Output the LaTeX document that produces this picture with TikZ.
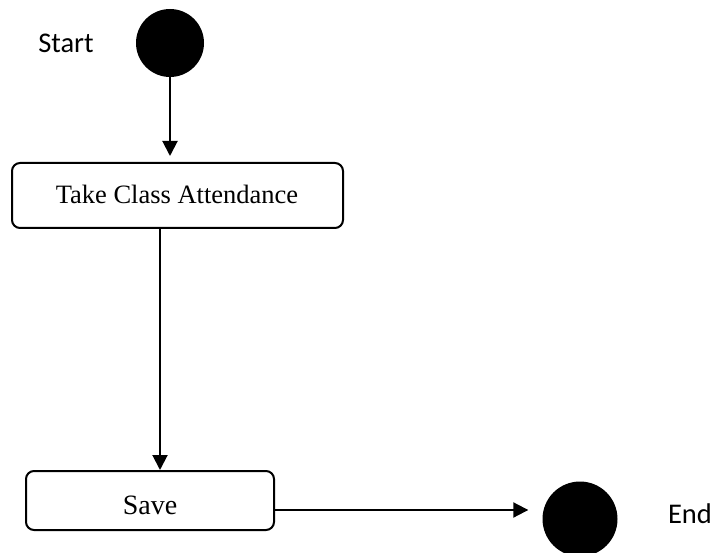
\documentclass[tikz,border=0pt]{standalone}
\usepackage{fontspec}
\setmainfont{Liberation Serif}
\newfontfamily\labelfont{Carlito}
\usetikzlibrary{arrows.meta,calc}
\begin{document}
\begin{tikzpicture}[x=1pt,y=-1pt,
  statedot/.style={circle,fill=black,draw=none,inner sep=0pt},
  activity/.style={draw,rounded corners=8pt,line width=2pt,inner sep=0pt},
  caption/.style={font=\labelfont\fontsize{28.5}{32}\selectfont,inner sep=0pt},
  flow/.style={line width=2pt,-{Triangle[length=15pt,width=15pt]}}]
  \useasboundingbox (0,0) rectangle (723,553);
  % initial and final states
  \node[statedot,minimum size=68pt] (start) at (170,43) {};
  \node[statedot,minimum size=75pt] (end) at (580,519) {};
  \node[caption,anchor=base] (startlbl) at (66,53) {Start};
  \node[caption,anchor=base] (endlbl) at (690,523) {End};
  % activities
  \node[activity,minimum width=331pt,minimum height=65pt] (take) at (177.5,195.5) {};
  \node[anchor=base,font=\fontsize{26.5}{30}\selectfont,inner sep=0pt] (taketxt) at (177,204) {Take Class Attendance};
  \node[activity,minimum width=248pt,minimum height=59pt] (save) at (150,500.5) {};
  \node[anchor=base,font=\fontsize{28}{32}\selectfont,inner sep=0pt] (savetxt) at (150,514) {Save};
  % transitions
  \draw[flow,shorten >=6pt] (start.south) -- (start.south |- take.north);
  \coordinate (takeout) at ($(take.south)+(-17.5,0)$);
  \draw[flow] (takeout) -- (takeout |- save.north);
  \coordinate (saveout) at ($(save.east)+(0,9.5)$);
  \draw[flow] (saveout) -- (saveout -| end.west) [shorten >=14pt];
\end{tikzpicture}
\end{document}
